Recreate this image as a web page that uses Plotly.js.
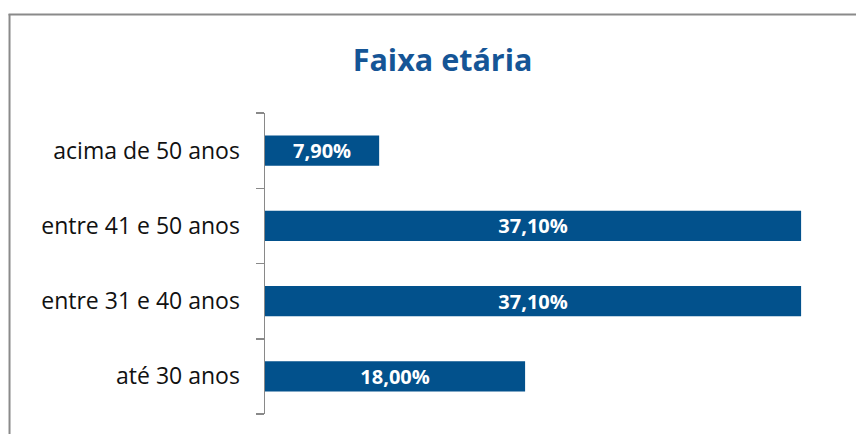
<!DOCTYPE html>
<html>
<head>
<meta charset="utf-8">
<script src="https://cdn.plot.ly/plotly-3.0.1.min.js"></script>
<style>
html,body{margin:0;padding:0;background:#fff;}
#chart{width:856px;height:434px;}
</style>
</head>
<body>
<div id="chart"></div>
<script>
const categories = ["até 30 anos", "entre 31 e 40 anos", "entre 41 e 50 anos", "acima de 50 anos"];
const values = [18.0, 37.1, 37.1, 7.9];
const titleText = "Faixa etária";

const barColor = "#02518C";
const axisGray = "#898989";

const trace = {
  type: "bar",
  orientation: "h",
  y: categories,
  x: values,
  marker: {color: barColor},
  texttemplate: "%{x:.2f}%",
  textposition: "inside",
  insidetextanchor: "middle",
  constraintext: "none",
  textangle: 0,
  textfont: {family: "'Open Sans', sans-serif", size: 20, color: "#ffffff", weight: "bold"},
  hoverinfo: "none",
  cliponaxis: false
};

const layout = {
  width: 856,
  height: 434,
  separators: ",.",
  margin: {l: 265, r: 13, t: 113, b: 20, pad: 0},
  paper_bgcolor: "#ffffff",
  plot_bgcolor: "#ffffff",
  showlegend: false,
  bargap: 0.6,
  title: {
    text: "<b>" + titleText + "</b>",
    font: {family: "'Open Sans', sans-serif", size: 30.5, color: "#155596"},
    x: 0.517, xanchor: "center",
    y: 0.862, yanchor: "middle", yref: "container"
  },
  xaxis: {
    range: [0, 40],
    visible: false,
    showgrid: false,
    zeroline: false,
    fixedrange: true
  },
  yaxis: {
    type: "category",
    showline: true,
    linecolor: axisGray,
    linewidth: 1.5,
    ticks: "outside",
    tickson: "boundaries",
    ticklen: 8,
    tickwidth: 1.5,
    tickcolor: axisGray,
    ticklabelstandoff: 19,
    tickfont: {family: "'Open Sans', sans-serif", size: 23, color: "#111111"},
    showgrid: false,
    zeroline: false,
    fixedrange: true
  },
  shapes: [
    {type: "line", xref: "paper", yref: "paper", x0: -0.4420, x1: -0.4420, y0: 1.3289, y1: -0.08,
     line: {color: "#8a8a8a", width: 2}},
    {type: "line", xref: "paper", yref: "paper", x0: -0.4437, x1: 1.03, y0: 1.3272, y1: 1.3272,
     line: {color: "#8a8a8a", width: 2}}
  ]
};

Plotly.newPlot("chart", [trace], layout, {displayModeBar: false, staticPlot: true});
</script>
</body>
</html>
